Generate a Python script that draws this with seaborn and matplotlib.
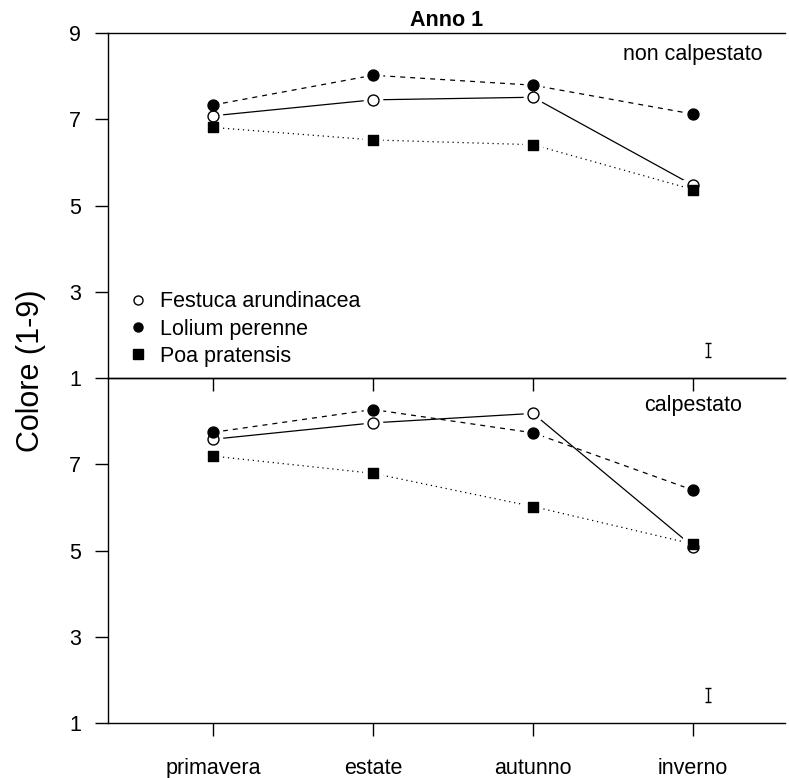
import numpy as np
import pandas as pd
import matplotlib
matplotlib.use("Agg")
import matplotlib.pyplot as plt
import seaborn as sns
from matplotlib.lines import Line2D

# dati (Anno 1)
stagioni = ["primavera", "estate", "autunno", "inverno"]
specie = ["Festuca arundinacea", "Lolium perenne", "Poa pratensis"]

festuca_nc = [7.08, 7.45, 7.51, 5.47]
lolium_nc = [7.33, 8.02, 7.79, 7.12]
poa_nc = [6.81, 6.52, 6.41, 5.37]

festuca_c = [7.58, 7.96, 8.18, 5.09]
lolium_c = [7.74, 8.27, 7.73, 6.40]
poa_c = [7.19, 6.79, 6.02, 5.15]

lsd_nc = 0.33
lsd_c = 0.33

sns.set_style("ticks")
plt.rcParams['font.family'] = ['Liberation Sans', 'DejaVu Sans']
plt.rcParams.update({
    "axes.linewidth": 1.0,
    "axes.edgecolor": "black",
    "text.color": "black",
    "xtick.color": "black",
    "ytick.color": "black",
    "xtick.labelcolor": "black",
    "ytick.labelcolor": "black",
})

pos = np.arange(len(stagioni))


def long_df(f, l, p):
    rows = []
    for sp, vals in zip(specie, [f, l, p]):
        for i, v in enumerate(vals):
            rows.append({"pos": pos[i], "stagione": stagioni[i], "specie": sp, "colore": v})
    return pd.DataFrame(rows)


df_nc = long_df(festuca_nc, lolium_nc, poa_nc)
df_c = long_df(festuca_c, lolium_c, poa_c)

stili = {
    "Festuca arundinacea": dict(ls="-", marker="o", fc="white"),
    "Lolium perenne": dict(ls=(0, (4, 4)), marker="o", fc="black"),
    "Poa pratensis": dict(ls=(0, (1, 3)), marker="s", fc="black"),
}

fig = plt.figure(figsize=(7.89, 7.78), dpi=100)
ax2 = fig.add_axes([0.1369, 0.0707, 0.8581, 0.4434])
ax1 = fig.add_axes([0.1369, 0.5141, 0.8581, 0.4435])
ax1.patch.set_alpha(0)


def disegna(ax, df, lsd, etichetta, ylab_y):
    for sp in specie:
        d = df[df["specie"] == sp]
        st = stili[sp]
        sns.lineplot(data=d, x="pos", y="colore", ax=ax, color="black",
                     linestyle=st["ls"], lw=0.9, zorder=1, legend=False)
        # alone bianco per staccare le linee dai punti
        sns.scatterplot(data=d, x="pos", y="colore", ax=ax, color="white",
                        marker=st["marker"], s=200, linewidth=0, zorder=2, legend=False)
    for sp in specie:
        d = df[df["specie"] == sp]
        st = stili[sp]
        sns.scatterplot(data=d, x="pos", y="colore", ax=ax, marker=st["marker"],
                        facecolor=st["fc"], edgecolor="black", s=62, linewidth=1.0,
                        zorder=3, legend=False)
    ax.errorbar(pos[-1] + 0.094, 1.65, yerr=lsd / 2, color="black", lw=1.0,
                capsize=2.2, capthick=1.0)
    ax.text(pos[-1], ylab_y, etichetta, ha="center", va="center", fontsize=15.5)
    ax.set_xlim(-0.656, 3.575)
    ax.set_ylim(1, 9)
    ax.set_xlabel("")
    ax.set_ylabel("")
    ax.set_xticks(pos)
    ax.tick_params(axis="both", direction="out", length=9.5, width=1.0,
                   labelsize=15.5, pad=10)
    ax.spines["right"].set_visible(False)


disegna(ax1, df_nc, lsd_nc, "non calpestato", 8.49)
disegna(ax2, df_c, lsd_c, "calpestato", 8.37)

ax1.set_yticks([1, 3, 5, 7, 9])
ax1.set_xticklabels([])
ax2.set_yticks([1, 3, 5, 7])
ax2.set_xticklabels(stagioni)
ax2.tick_params(axis="x", pad=16)

ax1.set_title("Anno 1", fontsize=15.5, fontweight="bold", pad=5)

maniglie = [Line2D([], [], ls="none", marker=stili[sp]["marker"], mfc=stili[sp]["fc"],
                   mec="black", ms=6.5, mew=1.0) for sp in specie]
ax1.legend(maniglie, specie, loc="upper left", bbox_to_anchor=(0.032, 0.252),
           frameon=False, fontsize=15.5, handlelength=0.8, handletextpad=0.6,
           labelspacing=0.3, borderpad=0, borderaxespad=0)

fig.text(0.039, 0.524, "Colore (1-9)", rotation=90, ha="center", va="center", fontsize=22)

fig.savefig("out.png", dpi=100)
